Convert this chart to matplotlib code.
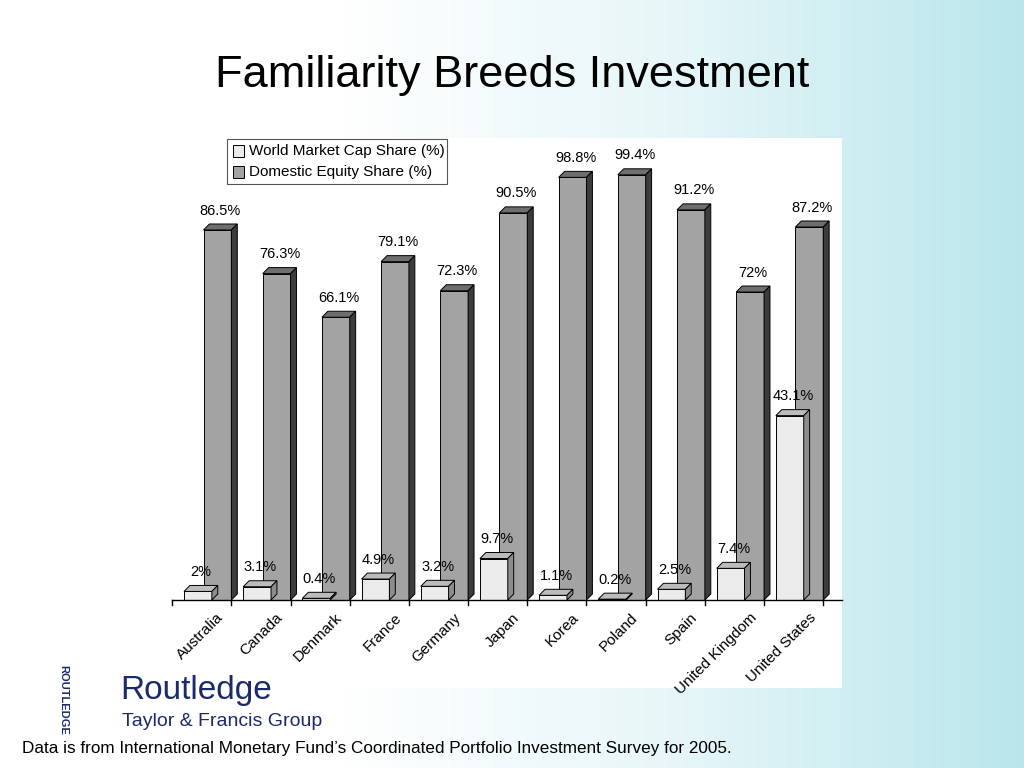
import numpy as np
import matplotlib.pyplot as plt
from matplotlib.patches import Polygon, Rectangle
from matplotlib.colors import LinearSegmentedColormap

plt.rcParams["font.family"] = "Liberation Sans"

countries = ["Australia", "Canada", "Denmark", "France", "Germany", "Japan",
             "Korea", "Poland", "Spain", "United Kingdom", "United States"]
world_cap = [2, 3.1, 0.4, 4.9, 3.2, 9.7, 1.1, 0.2, 2.5, 7.4, 43.1]
world_lbl = ["2%", "3.1%", "0.4%", "4.9%", "3.2%", "9.7%", "1.1%", "0.2%", "2.5%", "7.4%", "43.1%"]
domestic = [86.5, 76.3, 66.1, 79.1, 72.3, 90.5, 98.8, 99.4, 91.2, 72, 87.2]
dom_lbl = ["86.5%", "76.3%", "66.1%", "79.1%", "72.3%", "90.5%", "98.8%", "99.4%", "91.2%", "72%", "87.2%"]

W, H = 1024, 768
fig = plt.figure(figsize=(W / 100, H / 100), dpi=100)

# background gradient
bg = fig.add_axes([0, 0, 1, 1])
grad = np.tile(np.linspace(0, 1, 256), (64, 1))
cm = LinearSegmentedColormap.from_list("bg", ["#ffffff", "#ffffff", "#e6f6f8", "#b9e6ec"])
bg.imshow(grad, aspect="auto", cmap=cm, extent=[0, 1, 0, 1])
bg.axis("off")

fig.text(0.5, 1 - 75 / H, "Familiarity Breeds Investment", ha="center", va="center", fontsize=32.5)

# white panel
panel = fig.add_axes([172 / W, 1 - 688 / H, (842 - 172) / W, (688 - 138) / H])
panel.set_facecolor("white")
panel.set_xticks([])
panel.set_yticks([])
for s in panel.spines.values():
    s.set_visible(False)

ax = fig.add_axes([172 / W, 1 - 600 / H, (842 - 172) / W, (600 - 138) / H])
ax.set_xlim(-0.503, 10.817)
ax.set_ylim(0, 108)
ax.axis("off")

dx, dy = 0.1, 1.4


def bar3d(x0, w, h, front, top, side):
    ax.add_patch(Rectangle((x0, 0), w, h, facecolor=front, edgecolor="black", lw=0.7, zorder=2))
    ax.add_patch(Polygon([(x0, h), (x0 + dx, h + dy), (x0 + w + dx, h + dy), (x0 + w, h)],
                         facecolor=top, edgecolor="black", lw=0.7, zorder=2))
    ax.add_patch(Polygon([(x0 + w, 0), (x0 + w + dx, dy), (x0 + w + dx, h + dy), (x0 + w, h)],
                         facecolor=side, edgecolor="black", lw=0.7, zorder=2))


bw = 0.47
for i, v in enumerate(domestic):
    bar3d(i + 0.03, bw, v, "#a3a3a3", "#6e6e6e", "#3c3c3c")
    ax.text(i + 0.03 + bw / 2 + dx / 2, v + dy + 1.5, dom_lbl[i], ha="center", va="bottom", fontsize=10.5)
for i, v in enumerate(world_cap):
    bar3d(i - 0.3, bw, v, "#ebebeb", "#bcbcbc", "#8c8c8c")
    ax.text(i - 0.3 + bw / 2 + dx / 2, v + dy + 1.5, world_lbl[i], ha="center", va="bottom", fontsize=10.5)

# baseline and ticks
ax.plot([-0.503, 10.817], [0, 0], color="black", lw=1, clip_on=False, zorder=3)
for b in np.arange(-0.5, 11, 1):
    ax.plot([b, b], [0, -1.2], color="black", lw=1, clip_on=False)
for i, c in enumerate(countries):
    ax.text(i + 0.25, -2.5, c, rotation=45, ha="right", va="top", fontsize=11,
            rotation_mode="anchor")

# legend
lx, ly = 227 / W, 1 - 184 / H
fig.add_artist(Rectangle((lx, ly), 220 / W, 45 / H, transform=fig.transFigure,
                         facecolor="white", edgecolor="#555555", lw=0.8))
for k, (lab, col) in enumerate([("World Market Cap Share (%)", "#ebebeb"),
                                ("Domestic Equity Share (%)", "#a3a3a3")]):
    yc = 1 - (151 + 21 * k) / H
    fig.add_artist(Rectangle((233 / W, yc - 6 / H), 11 / W, 12 / H, transform=fig.transFigure,
                             facecolor=col, edgecolor="black", lw=0.7))
    fig.text(249 / W, yc, lab, va="center", fontsize=11)

# logo text and footer
fig.text(63 / W, 1 - 700 / H, "ROUTLEDGE", rotation=-90, fontsize=8, fontweight="bold",
         color="#1b2a6b", ha="center", va="center")
fig.text(120 / W, 1 - 690 / H, "Routledge", fontsize=24, color="#1b2a6b", va="center")
fig.text(122 / W, 1 - 722 / H, "Taylor & Francis Group", fontsize=14, color="#1b2a6b", va="center")
fig.text(22 / W, 1 - 748 / H,
         "Data is from International Monetary Fund\u2019s Coordinated Portfolio Investment Survey for 2005.",
         fontsize=12.3, va="center")

fig.savefig("out.png", dpi=100)
